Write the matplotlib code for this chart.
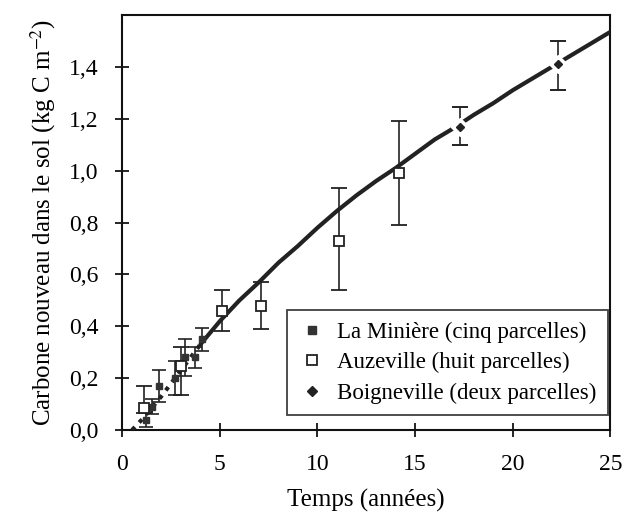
import matplotlib
matplotlib.use("Agg")
import matplotlib.pyplot as plt
import numpy as np

plt.rcParams['font.family'] = ['Liberation Serif', 'DejaVu Serif']
plt.rcParams['mathtext.fontset'] = 'stix'

# Model curve
curve_x = [0.5, 1, 2, 3, 4, 5, 6, 7, 8, 9, 10, 11, 12, 13, 14, 15, 16, 17, 18, 19, 20, 21, 22, 23, 24, 25]
curve_y = [0.0, 0.04, 0.13, 0.23, 0.33, 0.42, 0.50, 0.57, 0.645, 0.71, 0.78, 0.845, 0.905, 0.96,
           1.01, 1.065, 1.12, 1.165, 1.215, 1.26, 1.31, 1.355, 1.40, 1.445, 1.49, 1.535]

# La Minière (cinq parcelles)
lm_x = [1.2, 1.5, 1.9, 2.7, 3.2, 3.7, 4.1]
lm_y = [0.04, 0.09, 0.17, 0.20, 0.28, 0.28, 0.35]
lm_err = [0.03, 0.03, 0.06, 0.065, 0.07, 0.04, 0.045]

# Auzeville (huit parcelles)
az_x = [1.1, 3.0, 5.1, 7.1, 11.1, 14.2]
az_y = [0.085, 0.245, 0.46, 0.48, 0.73, 0.99]
az_lo = [0.065, 0.135, 0.38, 0.39, 0.54, 0.79]
az_hi = [0.17, 0.32, 0.54, 0.57, 0.935, 1.19]

# Boigneville (deux parcelles)
bg_x = [17.3, 22.3]
bg_y = [1.17, 1.41]
bg_lo = [1.10, 1.31]
bg_hi = [1.245, 1.50]

x_ticks = [0, 5, 10, 15, 20, 25]
y_ticks = [0.0, 0.2, 0.4, 0.6, 0.8, 1.0, 1.2, 1.4]
y_ticklabels = ["0,0", "0,2", "0,4", "0,6", "0,8", "1,0", "1,2", "1,4"]

fig = plt.figure(figsize=(6.24, 5.2), dpi=100)
ax = fig.add_axes([0.196, 0.173, 0.782, 0.798])

cx = np.array(curve_x)
cy = np.array(curve_y)
split = 4
ax.plot(cx[:split+1], cy[:split+1], color='#222222', lw=3, ls=(0, (1, 1.5)), zorder=3)
ax.plot(cx[split:], cy[split:], color='#222222', lw=3, solid_capstyle='round', zorder=3)

ax.errorbar(lm_x, lm_y, yerr=lm_err, fmt='s', color='#333333', ms=4.5, mfc='#333333',
            mec='#333333', ecolor='#222222', elinewidth=1.2, capsize=5, capthick=1.2, zorder=4,
            label='La Minière (cinq parcelles)')

az_yerr = [np.array(az_y) - np.array(az_lo), np.array(az_hi) - np.array(az_y)]
ax.errorbar(az_x, az_y, yerr=az_yerr, fmt='s', ms=7, mfc='white', mec='#222222', mew=1.3,
            ecolor='#222222', elinewidth=1.2, capsize=6, capthick=1.4, zorder=5,
            label='Auzeville (huit parcelles)')

bg_yerr = [np.array(bg_y) - np.array(bg_lo), np.array(bg_hi) - np.array(bg_y)]
ax.errorbar(bg_x, bg_y, yerr=bg_yerr, fmt='none', ecolor='#222222', elinewidth=1.2,
            capsize=6, capthick=1.4, zorder=4)
ax.plot(bg_x, bg_y, 'D', ms=9, mfc='white', mec='white', zorder=5)
ax.plot(bg_x, bg_y, 'D', ms=4, mfc='#222222', mec='#222222', zorder=6,
        label='Boigneville (deux parcelles)')

ax.set_xlim(0, 25)
ax.set_ylim(0, 1.6)
ax.set_xticks(x_ticks)
ax.set_yticks(y_ticks)
ax.set_yticklabels(y_ticklabels)
ax.tick_params(direction='inout', length=10, width=1.2, labelsize=17)
ax.tick_params(axis='y', pad=12)
ax.tick_params(axis='x', pad=12)
for s in ax.spines.values():
    s.set_linewidth(1.5)
    s.set_color('#111111')

ax.set_xlabel('Temps (années)', fontsize=18, labelpad=10)
ax.set_ylabel('Carbone nouveau dans le sol (kg C m$^{-2}$)', fontsize=18, labelpad=8)

handles = [
    plt.Line2D([], [], marker='s', ls='none', ms=6, mfc='#333333', mec='#333333'),
    plt.Line2D([], [], marker='s', ls='none', ms=7, mfc='white', mec='#222222', mew=1.3),
    plt.Line2D([], [], marker='D', ls='none', ms=5, mfc='#222222', mec='#222222'),
]
labels = ['La Minière (cinq parcelles)', 'Auzeville (huit parcelles)', 'Boigneville (deux parcelles)']
leg = ax.legend(handles, labels, loc='lower right', bbox_to_anchor=(0.996, 0.036),
                fontsize=16.5, frameon=True, fancybox=False, edgecolor='#111111',
                borderpad=0.5, handletextpad=0.5, labelspacing=0.4, handlelength=1.2,
                borderaxespad=0)
leg.get_frame().set_linewidth(1.3)

fig.savefig('out.png', dpi=100)
